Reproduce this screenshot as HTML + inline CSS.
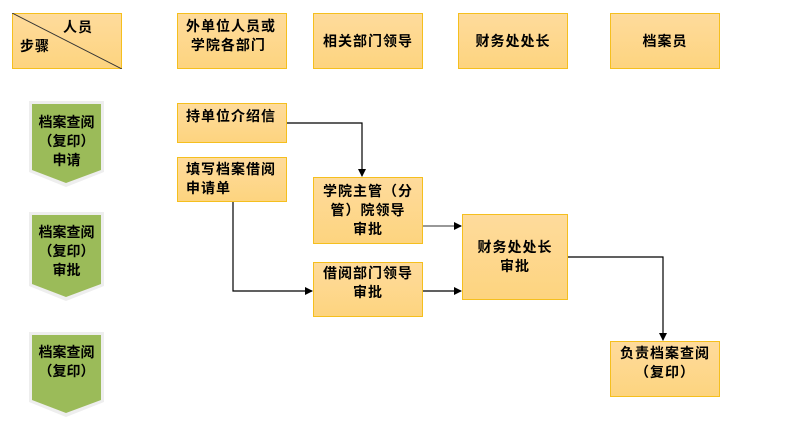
<!DOCTYPE html>
<html><head><meta charset="utf-8"><style>
body{margin:0;width:795px;height:421px;background:#fff;position:relative;overflow:hidden;font-family:"Liberation Sans","Noto Sans CJK SC",sans-serif;}
.b{position:absolute;box-sizing:border-box;border:1px solid #f5bf1e;background:linear-gradient(#fedb9c,#fdd47f);font-size:14px;letter-spacing:1px;font-weight:bold;color:#000;line-height:19px;white-space:nowrap;}
.c{display:flex;align-items:center;justify-content:center;text-align:center;}
.ch{position:absolute;width:75px;}
.ch .t{position:absolute;left:0;width:75px;text-align:center;font-size:14px;letter-spacing:0px;font-weight:bold;line-height:19px;white-space:nowrap;}
</style></head><body>
<svg width="795" height="421" style="position:absolute;left:0;top:0">
<defs><marker id="a" markerWidth="8" markerHeight="8" refX="7" refY="4" orient="auto" markerUnits="userSpaceOnUse"><path d="M0,0 L8,4 L0,8 z" fill="#000"/></marker></defs>
<g stroke="#000" stroke-width="1.2" fill="none">
<polyline points="287,123 362,123 362,176" marker-end="url(#a)"/>
<polyline points="233,202 233,291 312,291" marker-end="url(#a)"/>
<line x1="423" y1="226" x2="461" y2="226" stroke="#777" stroke-width="1.5" marker-end="url(#a)"/>
<line x1="423" y1="291" x2="461" y2="291" marker-end="url(#a)"/>
<polyline points="567,257 663,257 663,340" marker-end="url(#a)"/>
</g>
<g>
<polygon points="29,101 104,101 104,172 66,187 29,172" fill="#eee"/>
<polygon points="32,104 101,104 101,170 66,183 32,170" fill="#9bbb59"/>
<polygon points="29,212 104,212 104,286 66,301 29,286" fill="#eee"/>
<polygon points="32,215 101,215 101,284 66,297 32,284" fill="#9bbb59"/>
<polygon points="29,332 104,332 104,402 66,417 29,402" fill="#eee"/>
<polygon points="32,335 101,335 101,400 66,413 32,400" fill="#9bbb59"/>
</g>
</svg>
<div class="b" style="left:12px;top:13px;width:110px;height:56px;">
<svg width="110" height="56" style="position:absolute;left:-1px;top:-1px"><line x1="0" y1="0" x2="110" y2="56" stroke="#333" stroke-width="1"/></svg>
<span style="position:absolute;left:50px;top:4px">人员</span>
<span style="position:absolute;left:7px;top:23px">步骤</span></div>
<div class="b" style="left:177px;top:13px;width:110px;height:56px;padding:3px 0 0 8px">外单位人员或<br>&nbsp;学院各部门</div>
<div class="b c" style="left:313px;top:13px;width:110px;height:56px;">相关部门领导</div>
<div class="b c" style="left:458px;top:13px;width:110px;height:56px;">财务处处长</div>
<div class="b c" style="left:610px;top:13px;width:110px;height:56px;">档案员</div>
<div class="b" style="left:177px;top:103px;width:110px;height:40px;padding:3px 0 0 8px">持单位介绍信</div>
<div class="b" style="left:177px;top:157px;width:110px;height:45px;padding:2px 0 0 8px">填写档案借阅<br>申请单</div>
<div class="b c" style="left:313px;top:177px;width:110px;height:67px;">学院主管（分<br>管）院领导<br>审批</div>
<div class="b c" style="left:313px;top:262px;width:110px;height:55px;align-items:flex-start;padding-top:1px">借阅部门领导<br>审批</div>
<div class="b c" style="left:462px;top:214px;width:106px;height:86px;">财务处处长<br>审批</div>
<div class="b c" style="left:610px;top:341px;width:110px;height:56px;align-items:flex-start;padding-top:2px">负责档案查阅<br>（复印）</div>
<div class="ch" style="left:29px;top:0"><div class="t" style="top:113px">档案查阅<br>（复印）<br>申请</div></div>
<div class="ch" style="left:29px;top:0"><div class="t" style="top:223px">档案查阅<br>（复印）<br>审批</div></div>
<div class="ch" style="left:29px;top:0"><div class="t" style="top:343px">档案查阅<br>（复印）</div></div>
</body></html>
